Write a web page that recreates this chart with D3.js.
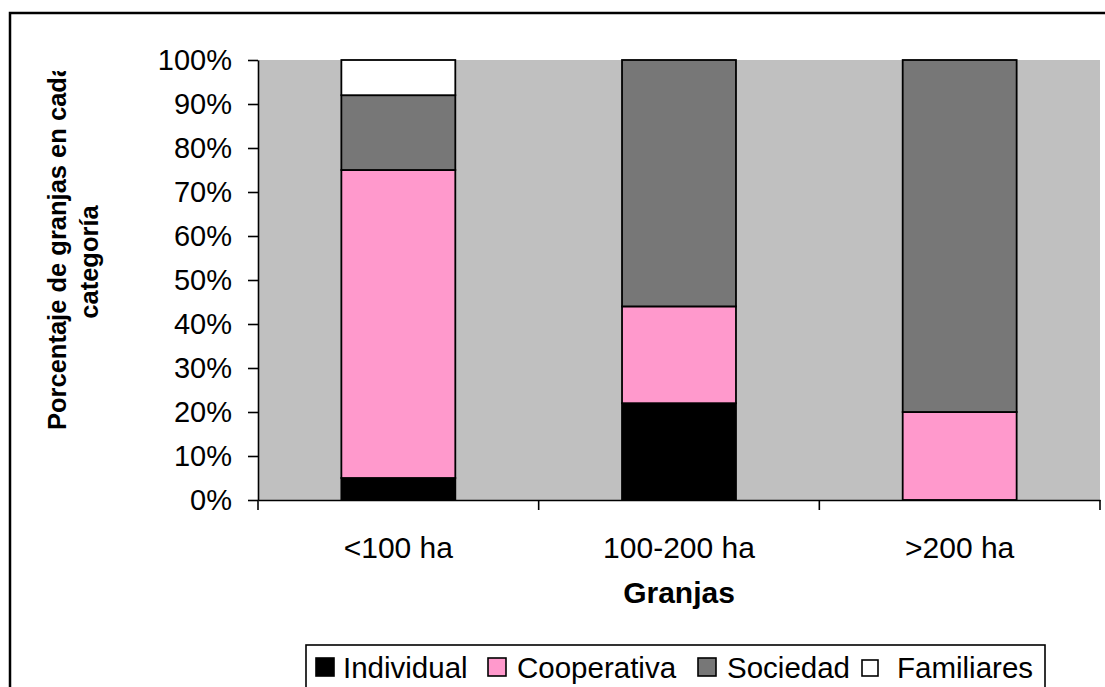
<!DOCTYPE html>
<html lang="es">
<head>
<meta charset="UTF-8">
<title>Granjas</title>
<script src="https://cdnjs.cloudflare.com/ajax/libs/d3/7.8.5/d3.min.js"></script>
<style>
  body { margin: 0; background: #fff; }
  svg { display: block; font-family: Arial, "Liberation Sans", sans-serif; }
</style>
</head>
<body>
<svg id="chart" width="1105" height="687"></svg>
<script>
var categories = ["<100 ha", "100-200 ha", ">200 ha"];
var seriesNames = ["Individual", "Cooperativa", "Sociedad", "Familiares"];
var individual = [5, 22, 0];
var cooperativa = [70, 22, 20];
var sociedad = [17, 56, 80];
var familiares = [8, 0, 0];
var yTickValues = [0, 10, 20, 30, 40, 50, 60, 70, 80, 90, 100];

var colors = {Individual: "#000000", Cooperativa: "#ff99cc", Sociedad: "#777777", Familiares: "#ffffff"};

function drawChart() {
  var svg = d3.select("#chart");
  var pLeft = 258, pRight = 1100, pTop = 60, pBottom = 500;

  // outer chart border (runs past the window edges like the original)
  svg.append("rect")
    .attr("x", 10).attr("y", 13).attr("width", 1300).attr("height", 900)
    .attr("fill", "#fff").attr("stroke", "#000").attr("stroke-width", 2.5);

  // rows of the table for d3.stack
  var rows = categories.map((c, i) => ({
    cat: c,
    Individual: individual[i],
    Cooperativa: cooperativa[i],
    Sociedad: sociedad[i],
    Familiares: familiares[i]
  }));
  var stacked = d3.stack().keys(seriesNames)(rows);

  var x = d3.scaleBand().domain(categories).range([pLeft, pRight])
    .paddingInner(0.594).paddingOuter(0.297);
  var y = d3.scaleLinear().domain([0, 100]).range([pBottom, pTop]);

  // plot area
  svg.append("rect")
    .attr("x", pLeft).attr("y", pTop).attr("width", pRight - pLeft).attr("height", pBottom - pTop)
    .attr("fill", "#c0c0c0");

  // bars
  var layers = svg.append("g").selectAll("g").data(stacked).enter()
    .append("g").attr("fill", d => colors[d.key]);
  layers.selectAll("rect").data(d => d.filter(s => s[1] - s[0] > 0)).enter()
    .append("rect")
    .attr("x", d => x(d.data.cat))
    .attr("width", x.bandwidth())
    .attr("y", d => y(d[1]))
    .attr("height", d => y(d[0]) - y(d[1]))
    .attr("stroke", "#000").attr("stroke-width", 1.8);

  // y axis
  var yAxis = svg.append("g").attr("transform", `translate(${pLeft},0)`)
    .call(d3.axisLeft(y).tickValues(yTickValues).tickFormat(d => d + "%")
      .tickSize(10).tickPadding(16).tickSizeOuter(0));
  yAxis.selectAll("text").attr("font-size", 29).attr("font-family", "Arial, 'Liberation Sans', sans-serif").attr("fill", "#000");
  yAxis.selectAll("line, path").attr("stroke", "#000").attr("stroke-width", 1.6);

  // x axis with labels at band centres and ticks at band edges
  var xAxis = svg.append("g").attr("transform", `translate(0,${pBottom})`)
    .call(d3.axisBottom(x).tickSize(0).tickPadding(37).tickSizeOuter(0));
  xAxis.select("path").attr("stroke", "#000").attr("stroke-width", 1.6);
  xAxis.selectAll("text").attr("font-size", 30).attr("font-family", "Arial, 'Liberation Sans', sans-serif").attr("fill", "#000");
  xAxis.selectAll("line.edge").data(d3.range(categories.length + 1)).enter()
    .append("line").attr("class", "edge")
    .attr("x1", i => pLeft + i * x.step()).attr("x2", i => pLeft + i * x.step())
    .attr("y1", 0).attr("y2", 10)
    .attr("stroke", "#000").attr("stroke-width", 1.6);

  // axis titles
  svg.append("text")
    .attr("x", (pLeft + pRight) / 2).attr("y", 603)
    .attr("text-anchor", "middle").attr("font-size", 30).attr("font-weight", "bold")
    .text("Granjas");

  svg.append("clipPath").attr("id", "yclip")
    .append("rect").attr("x", 0).attr("y", 71).attr("width", 150).attr("height", 500);
  var yTitle = svg.append("g").attr("clip-path", "url(#yclip)");
  yTitle.append("text")
    .attr("transform", "translate(66,430) rotate(-90)")
    .attr("font-size", 25.5).attr("font-weight", "bold")
    .text("Porcentaje de granjas en cada");
  yTitle.append("text")
    .attr("transform", "translate(98,262) rotate(-90)")
    .attr("text-anchor", "middle")
    .attr("font-size", 25.5).attr("font-weight", "bold")
    .text("categoría");

  // legend
  var legend = svg.append("g");
  legend.append("rect")
    .attr("x", 306).attr("y", 645).attr("width", 739).attr("height", 80)
    .attr("fill", "#fff").attr("stroke", "#000").attr("stroke-width", 1.6);
  var swatchX = [316, 488, 698, 862];
  var textX = [343, 517, 727, 897];
  seriesNames.forEach((s, i) => {
    var sz = s === "Familiares" ? 16 : 18;
    legend.append("rect")
      .attr("x", swatchX[i]).attr("y", 676 - sz).attr("width", sz).attr("height", sz)
      .attr("fill", colors[s]).attr("stroke", "#000").attr("stroke-width", 1.6);
    legend.append("text")
      .attr("x", textX[i]).attr("y", 678)
      .attr("font-size", 29.5)
      .text(s);
  });
}
drawChart();
</script>
</body>
</html>
